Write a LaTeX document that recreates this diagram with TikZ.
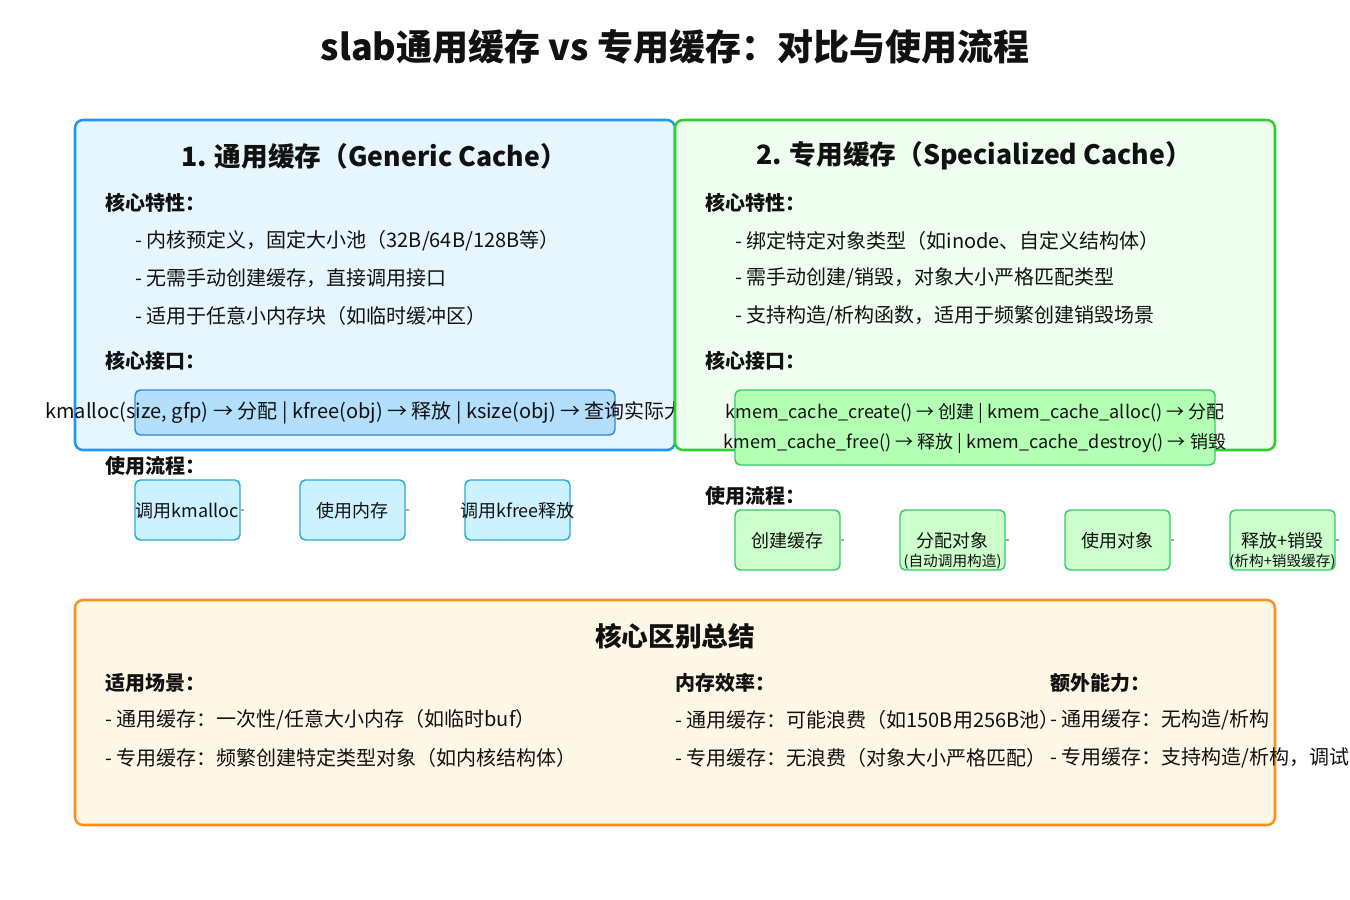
\documentclass[tikz,border=0pt]{standalone}
\usepackage{fontspec}
\setmainfont{Noto Sans CJK SC}
\definecolor{bluestroke}{HTML}{2196F3}
\definecolor{bluefill}{HTML}{E6F6FE}
\definecolor{greenstroke}{HTML}{33CC33}
\definecolor{greenfill}{HTML}{EFFFEF}
\definecolor{orangestroke}{HTML}{F7931E}
\definecolor{orangefill}{HTML}{FFF7E6}
\definecolor{bifill}{HTML}{B3DFFD}
\definecolor{bistroke}{HTML}{2F87D8}
\definecolor{gifill}{HTML}{B3FFB3}
\definecolor{gistroke}{HTML}{33CC66}
\definecolor{bffill}{HTML}{CCF2FF}
\definecolor{bfstroke}{HTML}{2BA9D6}
\definecolor{gffill}{HTML}{CCFFCC}
\definecolor{gfstroke}{HTML}{33CC66}
\definecolor{ink}{HTML}{111111}
\begin{document}
\begin{tikzpicture}[x=0.75pt,y=-0.75pt,
  every node/.style={text=ink},
  panel/.style={rounded corners=6pt, line width=1.9pt, inner sep=0pt},
  ibox/.style={rounded corners=4pt, line width=1.1pt, inner sep=0pt, minimum width=360pt},
  fbox/.style={rounded corners=4pt, line width=1.1pt, inner sep=0pt, minimum width=78.75pt, minimum height=45pt},
  titletxt/.style={font=\fontsize{27pt}{32pt}\selectfont\bfseries, inner sep=0pt},
  sectxt/.style={font=\fontsize{20pt}{24pt}\selectfont\bfseries, inner sep=0pt},
  labtxt/.style={font=\fontsize{15pt}{18pt}\selectfont\bfseries, anchor=west, inner sep=0pt},
  bodytxt/.style={font=\fontsize{15pt}{18pt}\selectfont, anchor=west, inner sep=0pt},
  ctrtxt/.style={font=\fontsize{15pt}{18pt}\selectfont, inner sep=0pt},
  ctrsmall/.style={font=\fontsize{13.5pt}{16pt}\selectfont, inner sep=0pt},
  flowtxt/.style={font=\fontsize{13.5pt}{16pt}\selectfont, inner sep=0pt},
  subtxt/.style={font=\fontsize{11pt}{13pt}\selectfont, inner sep=0pt},
  stub/.style={draw=gray!70, line width=0.9pt}
]
\useasboundingbox (0,0) rectangle (1350,900);
\fill[white] (0,0) rectangle (1350,900);

\node[titletxt] (title) at (675,47) {slab通用缓存 vs 专用缓存：对比与使用流程};

% ---------- Panel 1 ----------
\node[panel, draw=bluestroke, fill=bluefill, minimum width=450pt, minimum height=247.5pt] (p1) at (375,285) {};
\node[sectxt] (p1t) at (374,156) {1. 通用缓存（Generic Cache）};
\node[labtxt] (p1a) at (105,203) {核心特性：};
\node[bodytxt] (p1b1) at (135,241) {- 内核预定义，固定大小池（32B/64B/128B等）};
\node[bodytxt] (p1b2) at (135,278) {- 无需手动创建缓存，直接调用接口};
\node[bodytxt] (p1b3) at (135,316) {- 适用于任意小内存块（如临时缓冲区）};
\node[labtxt] (p1c) at (105,361) {核心接口：};
\node[ibox, draw=bistroke, fill=bifill, minimum height=33.75pt] (i1) at (375,412.5) {};
\node[ctrtxt] (i1t) at (375,413) {kmalloc(size, gfp) → 分配 | kfree(obj) → 释放 | ksize(obj) → 查询实际大小};
\node[labtxt] (p1d) at (105,466) {使用流程：};
\node[fbox, draw=bfstroke, fill=bffill] (b1) at (187.5,510) {};
\node[fbox, draw=bfstroke, fill=bffill] (b2) at (352.5,510) {};
\node[fbox, draw=bfstroke, fill=bffill] (b3) at (517.5,510) {};
\node[flowtxt] (b1t) at (187.5,511) {调用kmalloc};
\node[flowtxt] (b2t) at (352.5,511) {使用内存};
\node[flowtxt] (b3t) at (517.5,511) {调用kfree释放};
\coordinate (s1) at (244,510);
\coordinate (s2) at (409,510);
\draw[stub] (b1.east) -- (s1);
\draw[stub] (b2.east) -- (s2);

% ---------- Panel 2 ----------
\node[panel, draw=greenstroke, fill=greenfill, minimum width=450pt, minimum height=247.5pt] (p2) at (975,285) {};
\node[sectxt] (p2t) at (974,156) {2. 专用缓存（Specialized Cache）};
\node[labtxt] (p2a) at (705,203) {核心特性：};
\node[bodytxt] (p2b1) at (735,241) {- 绑定特定对象类型（如inode、自定义结构体）};
\node[bodytxt] (p2b2) at (735,278) {- 需手动创建/销毁，对象大小严格匹配类型};
\node[bodytxt] (p2b3) at (735,316) {- 支持构造/析构函数，适用于频繁创建销毁场景};
\node[labtxt] (p2c) at (705,361) {核心接口：};
\node[ibox, draw=gistroke, fill=gifill, minimum height=56.25pt] (i2) at (975,427.5) {};
\node[ctrsmall] (i2t1) at (975,413) {kmem\_cache\_create() → 创建 | kmem\_cache\_alloc() → 分配};
\node[ctrsmall] (i2t2) at (975,443) {kmem\_cache\_free() → 释放 | kmem\_cache\_destroy() → 销毁};
\node[labtxt] (p2d) at (705,496) {使用流程：};
\node[fbox, draw=gfstroke, fill=gffill] (g1) at (787.5,540) {};
\node[fbox, draw=gfstroke, fill=gffill] (g2) at (952.5,540) {};
\node[fbox, draw=gfstroke, fill=gffill] (g3) at (1117.5,540) {};
\node[fbox, draw=gfstroke, fill=gffill] (g4) at (1282.5,540) {};
\node[flowtxt] (g1t) at (787.5,541) {创建缓存};
\node[flowtxt] (g2t) at (952.5,541) {分配对象};
\node[subtxt] (g2s) at (952.5,562) {(自动调用构造)};
\node[flowtxt] (g3t) at (1117.5,541) {使用对象};
\node[flowtxt] (g4t) at (1282.5,541) {释放+销毁};
\node[subtxt] (g4s) at (1282.5,562) {(析构+销毁缓存)};
\coordinate (t1) at (844,540);
\coordinate (t2) at (1009,540);
\coordinate (t3) at (1174,540);
\coordinate (t4) at (1339,540);
\draw[stub] (g1.east) -- (t1);
\draw[stub] (g2.east) -- (t2);
\draw[stub] (g3.east) -- (t3);
\draw[stub] (g4.east) -- (t4);

% ---------- Summary ----------
\node[panel, draw=orangestroke, fill=orangefill, minimum width=900pt, minimum height=168.75pt] (p3) at (675,712.5) {};
\node[sectxt] (p3t) at (675,636) {核心区别总结};
\node[labtxt] (c1) at (105,683) {适用场景：};
\node[bodytxt] (c1a) at (105,720) {- 通用缓存：一次性/任意大小内存（如临时buf）};
\node[bodytxt] (c1b) at (105,758) {- 专用缓存：频繁创建特定类型对象（如内核结构体）};
\node[labtxt] (c2) at (675,683) {内存效率：};
\node[bodytxt] (c2a) at (675,720) {- 通用缓存：可能浪费（如150B用256B池）};
\node[bodytxt] (c2b) at (675,758) {- 专用缓存：无浪费（对象大小严格匹配）};
\node[labtxt] (c3) at (1050,683) {额外能力：};
\node[bodytxt] (c3a) at (1050,720) {- 通用缓存：无构造/析构};
\node[bodytxt] (c3b) at (1050,758) {- 专用缓存：支持构造/析构，调试更方便};
\end{tikzpicture}
\end{document}
